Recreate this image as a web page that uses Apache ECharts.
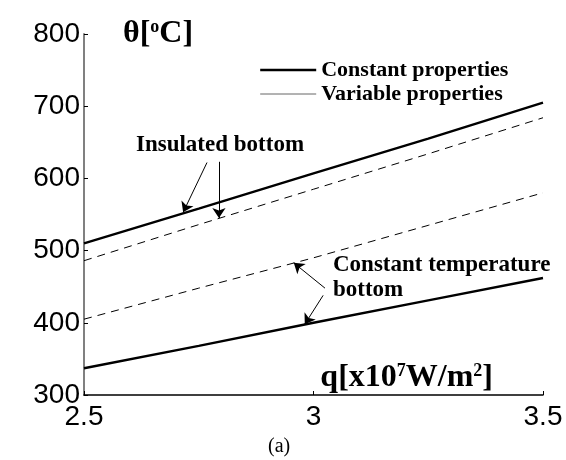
<!DOCTYPE html>
<html>
<head>
<meta charset="utf-8">
<script src="https://cdn.jsdelivr.net/npm/echarts@6/dist/echarts.min.js"></script>
<style>html,body{margin:0;padding:0;background:#fff;}#chart{width:566px;height:460px;}</style>
</head>
<body>
<div id="chart"></div>
<script>
// Heat flux q [x10^7 W/m^2]
const qValues = [2.5, 2.75, 3.0, 3.25, 3.5];
// Temperature theta [°C]
const insulatedConstant = [510, 558, 607, 655, 705];
const insulatedVariable = [486, 536, 585, 634, 684];
const ctempVariable = [405, 448, 490, 535, 580];
const ctempConstant = [337, 368, 400, 431, 462];
const xTicks = [2.5, 3, 3.5];
const yTicks = [300, 400, 500, 600, 700, 800];
// annotation arrows (from -> to, in data units)
const arrows = [
  [[2.768, 622], [2.716, 553]],
  [[2.794, 623], [2.794, 545]],
  [[3.025, 448], [2.957, 483]],
  [[3.021, 438], [2.981, 398]]
];

const SERIF = '"Liberation Serif","Times New Roman",serif';
const SANS = '"Liberation Sans",Arial,sans-serif';
const pairs = v => qValues.map((q, i) => [q, v[i]]);

const solid = { color: '#000', width: 2.4, type: 'solid' };
const dashed = { color: '#000', width: 1, type: [8, 6] };

const chart = echarts.init(document.getElementById('chart'), null, { renderer: 'canvas' });
chart.setOption({
  animation: false,
  backgroundColor: '#fff',
  grid: { left: 84, right: 23, top: 34, bottom: 65, containLabel: false },
  legend: {
    orient: 'vertical',
    left: 254,
    top: 54,
    itemWidth: 56,
    itemHeight: 12,
    itemGap: 2,
    selectedMode: false,
    textStyle: { fontFamily: SERIF, fontWeight: 'bold', fontSize: 22, color: '#000', lineHeight: 18 },
    data: [
      { name: 'Constant properties', itemStyle: { opacity: 0 }, lineStyle: { color: '#000', width: 2.4, type: 'solid' } },
      { name: 'Variable properties', itemStyle: { opacity: 0 }, lineStyle: { color: '#666', width: 1, type: 'solid' } }
    ]
  },
  xAxis: {
    type: 'value',
    min: 2.5, max: 3.5, interval: 0.5,
    name: '{b|q[x10}{s|7}{b|W/m}{s|2}{b|]}',
    nameLocation: 'end',
    nameGap: -50,
    nameTextStyle: {
      align: 'right', verticalAlign: 'bottom', padding: [0, 0, 1, 0],
      rich: {
        b: { fontFamily: SERIF, fontWeight: 'bold', fontSize: 32, color: '#000' },
        s: { fontFamily: SERIF, fontWeight: 'bold', fontSize: 18, color: '#000', verticalAlign: 'top' }
      }
    },
    axisLine: { lineStyle: { color: '#000', width: 1.5 } },
    axisTick: { inside: true, length: 4, lineStyle: { color: '#000' } },
    axisLabel: {
      margin: 8, fontFamily: SANS, fontSize: 28, color: '#000',
      formatter: v => (xTicks.indexOf(v) >= 0 ? String(v) : '')
    },
    splitLine: { show: false }
  },
  yAxis: {
    type: 'value',
    min: 300, max: 800, interval: 100,
    name: '{b|θ[}{s|o}{b|C]}',
    nameLocation: 'end',
    nameGap: 0,
    nameTextStyle: {
      align: 'left', verticalAlign: 'middle', padding: [0, 0, 0, 39],
      rich: {
        b: { fontFamily: SERIF, fontWeight: 'bold', fontSize: 32, color: '#000' },
        s: { fontFamily: SERIF, fontWeight: 'bold', fontSize: 18, color: '#000', verticalAlign: 'top' }
      }
    },
    axisLine: { show: true, lineStyle: { color: '#808080', width: 2 } },
    axisTick: { show: true, inside: true, length: 4, lineStyle: { color: '#000' } },
    axisLabel: {
      margin: 4, fontFamily: SANS, fontSize: 28, color: '#000',
      formatter: v => (yTicks.indexOf(v) >= 0 ? String(v) : '')
    },
    splitLine: { show: false }
  },
  series: [
    {
      name: 'Constant properties', type: 'line', data: pairs(insulatedConstant),
      symbol: 'none', lineStyle: solid, itemStyle: { color: '#000' },
      markLine: {
        silent: true, symbol: ['none', 'arrow'], symbolSize: 10,
        lineStyle: { color: '#000', width: 1, type: 'solid' },
        label: { show: false },
        data: arrows.map(a => [{ coord: a[0] }, { coord: a[1] }])
      }
    },
    { name: 'Variable properties', type: 'line', data: pairs(insulatedVariable), symbol: 'none', lineStyle: dashed, itemStyle: { color: '#000' } },
    { name: 'Variable properties', type: 'line', data: pairs(ctempVariable), symbol: 'none', lineStyle: dashed, itemStyle: { color: '#000' } },
    { name: 'Constant properties', type: 'line', data: pairs(ctempConstant), symbol: 'none', lineStyle: solid, itemStyle: { color: '#000' } }
  ],
  graphic: [
    { type: 'text', left: 136, top: 134, style: { text: 'Insulated bottom', fontFamily: SERIF, fontWeight: 'bold', fontSize: 23, fill: '#000' } },
    { type: 'text', left: 333, top: 253, style: { text: 'Constant temperature\nbottom', fontFamily: SERIF, fontWeight: 'bold', fontSize: 23, lineHeight: 25, fill: '#000' } },
    { type: 'text', left: 268, top: 437, style: { text: '(a)', fontFamily: SERIF, fontSize: 20, fill: '#000' } }
  ]
});
</script>
</body>
</html>
